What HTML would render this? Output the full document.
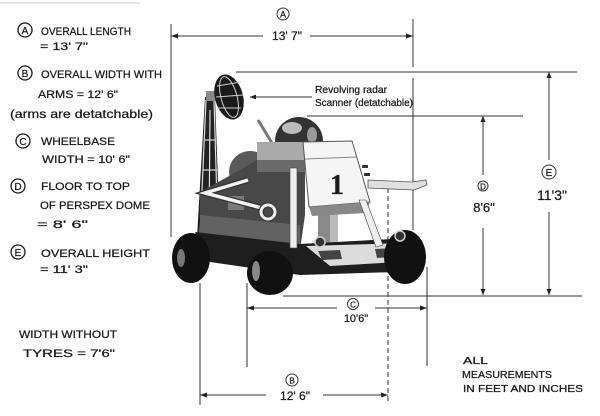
<!DOCTYPE html>
<html><head><meta charset="utf-8"><style>
html,body{margin:0;padding:0;background:#fff;}
svg{display:block;}
text{font-family:"Liberation Sans",sans-serif;fill:#1a1a1a;stroke:#1a1a1a;stroke-width:0.25;}
</style></head><body>
<svg width="600" height="416" viewBox="0 0 600 416" xmlns="http://www.w3.org/2000/svg">
<rect width="600" height="416" fill="#fff"/>
<line x1="0" y1="3" x2="140" y2="3" stroke="#ccc" stroke-width="1"/>

<!-- LEFT TEXT -->
<g stroke="#1a1a1a" stroke-width="1.3" fill="none">
<circle cx="25" cy="30" r="7"/><circle cx="25" cy="73" r="7"/><circle cx="23" cy="141" r="7"/><circle cx="18" cy="186" r="7"/><circle cx="18" cy="252" r="7"/>
</g>
<g font-size="10" text-anchor="middle">
<text x="25" y="34">A</text><text x="25" y="77">B</text><text x="23" y="145">C</text><text x="18" y="190">D</text><text x="18" y="256">E</text>
</g>
<g font-size="11">
<text x="41" y="35" textLength="90" lengthAdjust="spacingAndGlyphs">OVERALL LENGTH</text>
<text x="40" y="50" textLength="48" lengthAdjust="spacingAndGlyphs">= 13' 7"</text>
<text x="41" y="78" textLength="121" lengthAdjust="spacingAndGlyphs">OVERALL WIDTH WITH</text>
<text x="38" y="98" textLength="80" lengthAdjust="spacingAndGlyphs">ARMS = 12' 6"</text>
<text x="10" y="118" font-size="12" textLength="143" lengthAdjust="spacingAndGlyphs">(arms are detatchable)</text>
<text x="41" y="145" textLength="74" lengthAdjust="spacingAndGlyphs">WHEELBASE</text>
<text x="42" y="163" textLength="88" lengthAdjust="spacingAndGlyphs">WIDTH = 10' 6"</text>
<text x="41" y="190" textLength="89" lengthAdjust="spacingAndGlyphs">FLOOR TO TOP</text>
<text x="40" y="209" textLength="110" lengthAdjust="spacingAndGlyphs">OF PERSPEX DOME</text>
<text x="37" y="228" textLength="51" lengthAdjust="spacingAndGlyphs">= 8' 6"</text>
<text x="41" y="257" textLength="109" lengthAdjust="spacingAndGlyphs">OVERALL HEIGHT</text>
<text x="40" y="273" textLength="48" lengthAdjust="spacingAndGlyphs">= 11' 3"</text>
<text x="19" y="338" textLength="98" lengthAdjust="spacingAndGlyphs">WIDTH WITHOUT</text>
<text x="23" y="357" textLength="92" lengthAdjust="spacingAndGlyphs">TYRES = 7'6"</text>
</g>
<g font-size="10">
<text x="463" y="364" textLength="25" lengthAdjust="spacingAndGlyphs">ALL</text>
<text x="462" y="378" textLength="90" lengthAdjust="spacingAndGlyphs">MEASUREMENTS</text>
<text x="463" y="392" textLength="120" lengthAdjust="spacingAndGlyphs">IN FEET AND INCHES</text>
</g>

<!-- DIMENSION LINES -->
<g stroke="#333" stroke-width="1" fill="none">
<line x1="171" y1="24" x2="171" y2="237"/>
<line x1="413" y1="19" x2="413" y2="67"/>
<line x1="413" y1="78" x2="413" y2="230"/>
<line x1="171" y1="36" x2="263" y2="36"/>
<line x1="310" y1="36" x2="413" y2="36"/>
<line x1="236" y1="72" x2="577" y2="72"/>
<line x1="307" y1="116" x2="523" y2="116"/>
<line x1="483" y1="116" x2="483" y2="175"/>
<line x1="483" y1="228" x2="483" y2="295"/>
<line x1="549" y1="72" x2="549" y2="160"/>
<line x1="549" y1="212" x2="549" y2="295"/>
<line x1="283" y1="296" x2="582" y2="296"/>
<line x1="247" y1="308" x2="337" y2="308"/>
<line x1="375" y1="308" x2="427" y2="308"/>
<line x1="247" y1="283" x2="247" y2="367"/>
<line x1="427" y1="267" x2="427" y2="366"/>
<line x1="200" y1="283" x2="200" y2="405"/>
<line x1="200" y1="395" x2="266" y2="395"/>
<line x1="323" y1="395" x2="388" y2="395"/>
<line x1="388" y1="188" x2="388" y2="403" stroke-dasharray="5,3"/>
<line x1="250" y1="97" x2="312" y2="97"/>
<circle cx="283" cy="14" r="6"/>
<circle cx="483" cy="186" r="5"/>
<circle cx="549" cy="172" r="7"/>
<circle cx="353" cy="304" r="5.5"/>
<circle cx="292" cy="380" r="6"/>
</g>
<g fill="#222">
<polygon points="171,36 178,33.5 178,38.5"/>
<polygon points="413,36 406,33.5 406,38.5"/>
<polygon points="483,116 480.5,122 485.5,122"/>
<polygon points="483,295 480.5,289 485.5,289"/>
<polygon points="549,72 546.5,78 551.5,78"/>
<polygon points="549,295 546.5,289 551.5,289"/>
<polygon points="247,308 254,305.5 254,310.5"/>
<polygon points="427,308 420,305.5 420,310.5"/>
<polygon points="200,395 207,392.5 207,397.5"/>
<polygon points="388,395 381,392.5 381,397.5"/>
<polygon points="250,97 256,94.5 256,99.5"/>
</g>
<g text-anchor="middle">
<text x="283" y="17.5" font-size="9">A</text>
<text x="483" y="189.5" font-size="8">D</text>
<text x="549" y="176" font-size="10">E</text>
<text x="353" y="307.5" font-size="8">C</text>
<text x="292" y="383.5" font-size="8">B</text>
<text x="287" y="40" font-size="12">13' 7"</text>
<text x="484" y="212" font-size="13">8'6"</text>
<text x="552" y="200" font-size="14">11'3"</text>
<text x="356" y="322" font-size="11">10'6"</text>
<text x="295" y="400" font-size="12">12' 6"</text>
</g>
<text x="315" y="93" font-size="10" textLength="72" lengthAdjust="spacingAndGlyphs">Revolving radar</text>
<text x="315" y="106" font-size="10" textLength="98" lengthAdjust="spacingAndGlyphs">Scanner (detatchable)</text>

<!-- VEHICLE -->
<polygon points="205,97 215,97 220,238 197,238" fill="#222"/>
<g stroke="#ddd" stroke-width="1.2">
<line x1="206" y1="100" x2="200" y2="236"/>
<line x1="214" y1="100" x2="218" y2="236"/>
<line x1="210" y1="110" x2="209" y2="236"/>
<line x1="205" y1="140" x2="216" y2="140"/>
<line x1="203" y1="170" x2="217" y2="170"/>
<line x1="202" y1="200" x2="218" y2="200"/>
</g>
<rect x="206" y="91" width="10" height="10" fill="#888"/>
<ellipse cx="229" cy="97" rx="14" ry="23" transform="rotate(-15 229 97)" fill="#1a1a1a"/>
<g stroke="#cfcfcf" stroke-width="1" fill="none">
<ellipse cx="229" cy="97" rx="8" ry="21" transform="rotate(-15 229 97)"/>
<line x1="217" y1="86" x2="241" y2="82"/>
<line x1="216" y1="97" x2="243" y2="95"/>
<line x1="218" y1="108" x2="241" y2="108"/>
</g>
<circle cx="250" cy="172" r="21" fill="#5a5a5a"/>
<circle cx="299" cy="141" r="24" fill="#333"/>
<ellipse cx="292" cy="128" rx="10" ry="6" fill="#bbb"/>
<ellipse cx="312" cy="135" rx="5" ry="8" fill="#999"/>
<line x1="258" y1="120" x2="272" y2="143" stroke="#777" stroke-width="3"/>
<polygon points="200,192 240,170 257,160 305,160 305,215 300,250 200,250" fill="#484848"/>
<rect x="257" y="142" width="48" height="18" fill="#aaa"/>
<rect x="257" y="160" width="48" height="12" fill="#6a6a6a"/>
<polygon points="200,215 300,225 300,252 200,248" fill="#626262"/>
<rect x="228" y="196" width="16" height="14" fill="#7a7a7a"/>
<rect x="318" y="210" width="20" height="42" fill="#8a8a8a"/>
<rect x="330" y="210" width="8" height="42" fill="#bbb"/>
<polygon points="303,142 352,141 370,202 309,207" fill="#f5f5f5" stroke="#555" stroke-width="1"/>
<line x1="305" y1="159" x2="357" y2="157" stroke="#888"/>
<polygon points="309,207 370,202 366,213 312,216" fill="#888"/>
<text x="337" y="194" font-size="28" font-weight="bold" text-anchor="middle" style="font-family:'Liberation Serif',serif">1</text>
<rect x="362" y="165" width="6" height="3" fill="#333"/>
<rect x="364" y="173" width="6" height="3" fill="#333"/>
<polygon points="368,180 412,182 426,180 427,185 414,190 368,188" fill="#e0e0e0" stroke="#555" stroke-width="0.8"/>
<polygon points="195,232 300,244 410,238 412,262 395,272 300,275 210,262" fill="#1e1e1e"/>
<polygon points="306,246 405,243 398,262 330,266" fill="#dcdcdc"/>
<polygon points="318,251 340,250 342,259 322,260" fill="#444"/>
<polygon points="375,249 395,248 392,257 377,258" fill="#444"/>
<rect x="290" y="168" width="7" height="80" fill="#eee" stroke="#444" stroke-width="0.6"/>
<polygon points="359,200 366,200 383,245 376,247" fill="#eee" stroke="#444" stroke-width="0.6"/>
<polyline points="248,180 205,193 262,208" fill="none" stroke="#333" stroke-width="6"/>
<polyline points="248,180 205,193 262,208" fill="none" stroke="#f2f2f2" stroke-width="3.5"/>
<circle cx="268" cy="212" r="7" fill="none" stroke="#333" stroke-width="5"/>
<circle cx="268" cy="212" r="7" fill="none" stroke="#f2f2f2" stroke-width="3"/>
<ellipse cx="191" cy="258" rx="19" ry="25" fill="#111"/>
<ellipse cx="181" cy="258" rx="4" ry="9" fill="#777"/>
<ellipse cx="270" cy="273" rx="23" ry="22" fill="#111"/>
<ellipse cx="256" cy="271" rx="4" ry="10" fill="#888"/>
<ellipse cx="405" cy="257" rx="21" ry="27" fill="#111"/>
<circle cx="320" cy="242" r="5" fill="#333" stroke="#ccc" stroke-width="1.5"/>
<circle cx="400" cy="236" r="5" fill="#333" stroke="#ccc" stroke-width="1.5"/>
</svg>
</body></html>
